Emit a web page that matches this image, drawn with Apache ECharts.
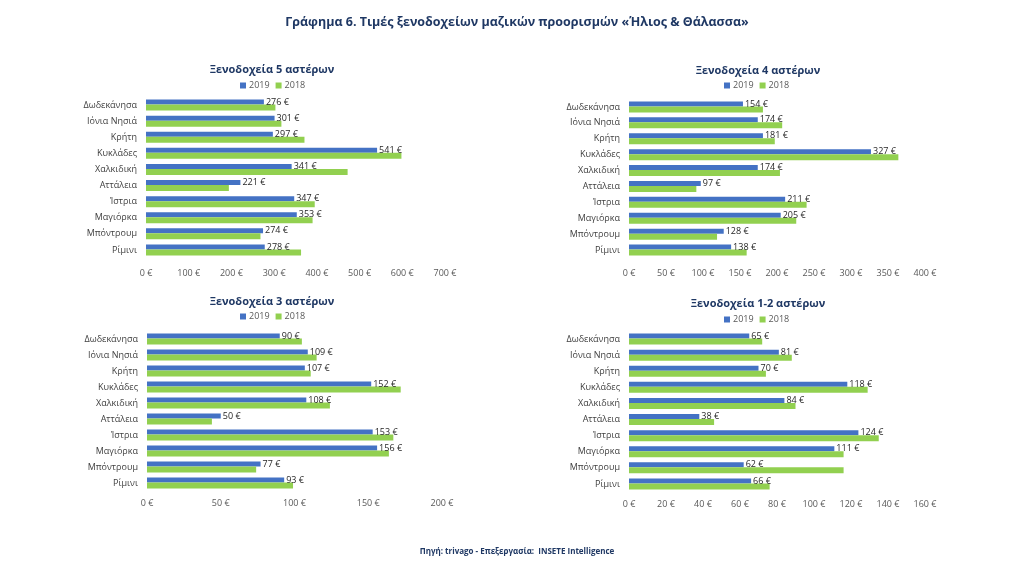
<!DOCTYPE html>
<html>
<head>
<meta charset="utf-8">
<script src="https://cdn.jsdelivr.net/npm/echarts@6/dist/echarts.min.js"></script>
<style>
html,body{margin:0;padding:0;background:#fff;}
#chart{width:1024px;height:576px;}
</style>
</head>
<body>
<div id="chart"></div>
<script>
const categories = ['Δωδεκάνησα','Ιόνια Νησιά','Κρήτη','Κυκλάδες','Χαλκιδική','Αττάλεια','Ίστρια','Μαγιόρκα','Μπόντρουμ','Ρίμινι'];
const seriesNames = ['2019','2018'];
const panelTitles = ['Ξενοδοχεία 5 αστέρων','Ξενοδοχεία 4 αστέρων','Ξενοδοχεία 3 αστέρων','Ξενοδοχεία 1-2 αστέρων'];
const stars5_2019 = [276,301,297,541,341,221,347,353,274,278];
const stars5_2018 = [303,317,371,598,472,194,395,390,268,363];
const stars4_2019 = [154,174,181,327,174,97,211,205,128,138];
const stars4_2018 = [181,207,197,364,204,91,240,226,119,159];
const stars3_2019 = [90,109,107,152,108,50,153,156,77,93];
const stars3_2018 = [105,115,111,172,124,44,167,164,74,99];
const stars12_2019 = [65,81,70,118,84,38,124,111,62,66];
const stars12_2018 = [72,88,74,129,90,46,135,116,116,76];
const axisMax = [700,400,200,160];
const axisInterval = [100,50,50,20];

const panels2019 = [stars5_2019, stars4_2019, stars3_2019, stars12_2019];
const panels2018 = [stars5_2018, stars4_2018, stars3_2018, stars12_2018];

const FONT = '"Open Sans", "Noto Sans", sans-serif';
const BLUE = '#4472C4';
const GREEN = '#92D050';
const NAVY = '#1F3864';

const grids = [
  {left:146, width:299, top:97, height:161},
  {left:629, width:296, top:99, height:159},
  {left:147, width:295, top:331, height:160},
  {left:629, width:296, top:331, height:161}
];
const subTitlePos = [{x:267,y:59},{x:753,y:60},{x:267,y:291},{x:753,y:293}];
const legendPos = [{x:240,y:81},{x:724,y:81},{x:240,y:312},{x:724,y:315}];
const labelMargin = [11,11,8,8];

const title = [{
  text:'Γράφημα 6. Τιμές ξενοδοχείων μαζικών προορισμών «Ήλιος & Θάλασσα»',
  left:512, top:11, textAlign:'center',
  textStyle:{fontFamily:FONT, fontSize:12.5, fontWeight:'bold', color:NAVY}
},{
  text:'Πηγή: trivago - Επεξεργασία:  INSETE Intelligence',
  left:512, top:543, textAlign:'center',
  textStyle:{fontFamily:FONT, fontSize:8, fontWeight:'bold', color:NAVY}
}];
const legend = [];
const xAxis = [];
const yAxis = [];
const series = [];
for (let i=0;i<4;i++){
  title.push({
    text:panelTitles[i], left:subTitlePos[i].x, top:subTitlePos[i].y, textAlign:'center',
    textStyle:{fontFamily:FONT, fontSize:11, fontWeight:'bold', color:NAVY}
  });
  legend.push({
    data:seriesNames, left:legendPos[i].x, top:legendPos[i].y, padding:0,
    itemWidth:6, itemHeight:6, itemGap:6, icon:'rect',
    textStyle:{fontFamily:FONT, fontSize:9, color:'#595959', padding:[0,0,0,-2]}
  });
  xAxis.push({
    type:'value', gridIndex:i, min:0, max:axisMax[i], interval:axisInterval[i],
    axisLine:{show:false}, axisTick:{show:false}, splitLine:{show:false},
    axisLabel:{formatter:'{value} €', fontFamily:FONT, fontSize:9, color:'#595959', margin:labelMargin[i]}
  });
  yAxis.push({
    type:'category', gridIndex:i, data:categories, inverse:true,
    axisLine:{show:false}, axisTick:{show:false},
    axisLabel:{fontFamily:FONT, fontSize:9, color:'#404040', margin:9}
  });
  series.push({
    name:'2019', type:'bar', xAxisIndex:i, yAxisIndex:i, data:panels2019[i],
    itemStyle:{color:BLUE}, barWidth:5, barGap:'0%',
    label:{show:true, position:'right', distance:2, formatter:'{c} €', fontFamily:FONT, fontSize:9, color:'#262626'}
  });
  series.push({
    name:'2018', type:'bar', xAxisIndex:i, yAxisIndex:i, data:panels2018[i],
    itemStyle:{color:GREEN}, barWidth:6, barGap:'0%'
  });
}

const chart = echarts.init(document.getElementById('chart'));
chart.setOption({
  animation:false,
  backgroundColor:'#ffffff',
  title:title, legend:legend, grid:grids, xAxis:xAxis, yAxis:yAxis, series:series
});
</script>
</body>
</html>
